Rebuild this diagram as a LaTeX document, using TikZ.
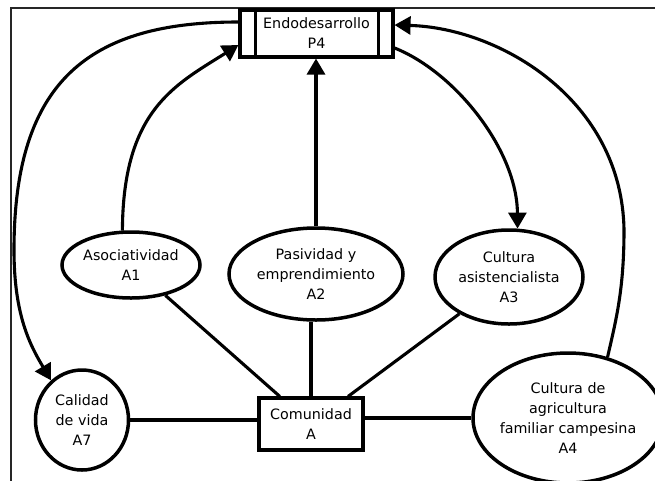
\documentclass[tikz,border=0pt]{standalone}
\usepackage{fontspec}
\setmainfont{DejaVu Sans}
\usetikzlibrary{arrows.meta,shapes.geometric}
\begin{document}
\begin{tikzpicture}[x=1pt,y=-1pt,
  frameline/.style={line width=1.6pt,draw=black!85},
  ln/.style={line width=3.1pt},
  arr/.style={line width=3.1pt,-{Triangle[length=16pt,width=18pt]}},
  ell/.style={draw,line width=3.5pt,ellipse,inner sep=0pt},
  boxn/.style={draw,line width=3.1pt,rectangle,inner sep=0pt},
  txt/.style={align=center,inner sep=0pt,font=\fontsize{14.3}{20}\selectfont}]
\useasboundingbox (0,0) rectangle (655,480);
\draw[frameline] (11,481) -- (11,8) -- (656,8);

% nodes
\node[boxn,minimum width=153,minimum height=47] (P4) at (316.5,33.5) {};
\draw[ln] ([xshift=17pt]P4.north west) -- ([xshift=17pt]P4.south west);
\draw[ln] ([xshift=-16pt]P4.north east) -- ([xshift=-16pt]P4.south east);
\node[txt] (tP4) at (P4) {Endodesarrollo\\P4};

\node[ell,minimum width=138,minimum height=66] (A1) at (131,265) {};
\node[txt] (tA1) at (A1) {Asociatividad\\A1};

\node[ell,minimum width=174,minimum height=92] (A2) at (316,274) {};
\node[txt] (tA2) at (A2) {Pasividad y\\emprendimiento\\A2};

\node[ell,minimum width=148,minimum height=94] (A3) at (509,277) {};
\node[txt] (tA3) at (A3) {Cultura\\asistencialista\\A3};

\node[ell,minimum width=93,minimum height=100] (A7) at (82,420) {};
\node[txt] (tA7) at (A7) {Calidad\\de vida\\A7};

\node[ell,minimum width=190,minimum height=130] (A4) at (568,418) {};
\node[txt] (tA4) at (A4) {Cultura de\\agricultura\\familiar campesina\\A4};

\node[boxn,minimum width=104,minimum height=52] (A) at (311,424) {};
\node[txt] (tA) at (A) {Comunidad\\A};

% plain connectors
\draw[ln] (A7.east) -- (A7.east -| A.west);
\draw[ln] (A4.west -| A.east) -- (A4.west);
\draw[ln] (A1) -- (A);
\draw[ln] (A3) -- (A);
\draw[ln] (A2.south -| A.north) -- (A.north);

% arrows
\draw[arr] (A2.north) -- (A2.north |- P4.south);
\draw[arr] ([yshift=11.5pt]P4.west) .. controls (90,22) and (14,80) .. (14,250)
   .. controls (14,315) and (30,345) .. (A7.128);
\draw[arr] (A1.104) .. controls (123,110) and (175,85) .. ([yshift=-11.5pt]P4.west);
\draw[arr] ([yshift=-14.5pt]P4.east) .. controls (455,72) and (517,150) .. (A3.80);
\draw[arr] (A4.57) .. controls (616,320) and (624,290) .. (624,230)
   .. controls (622,100) and (500,28) .. ([yshift=8.5pt]P4.east);
\end{tikzpicture}
\end{document}
